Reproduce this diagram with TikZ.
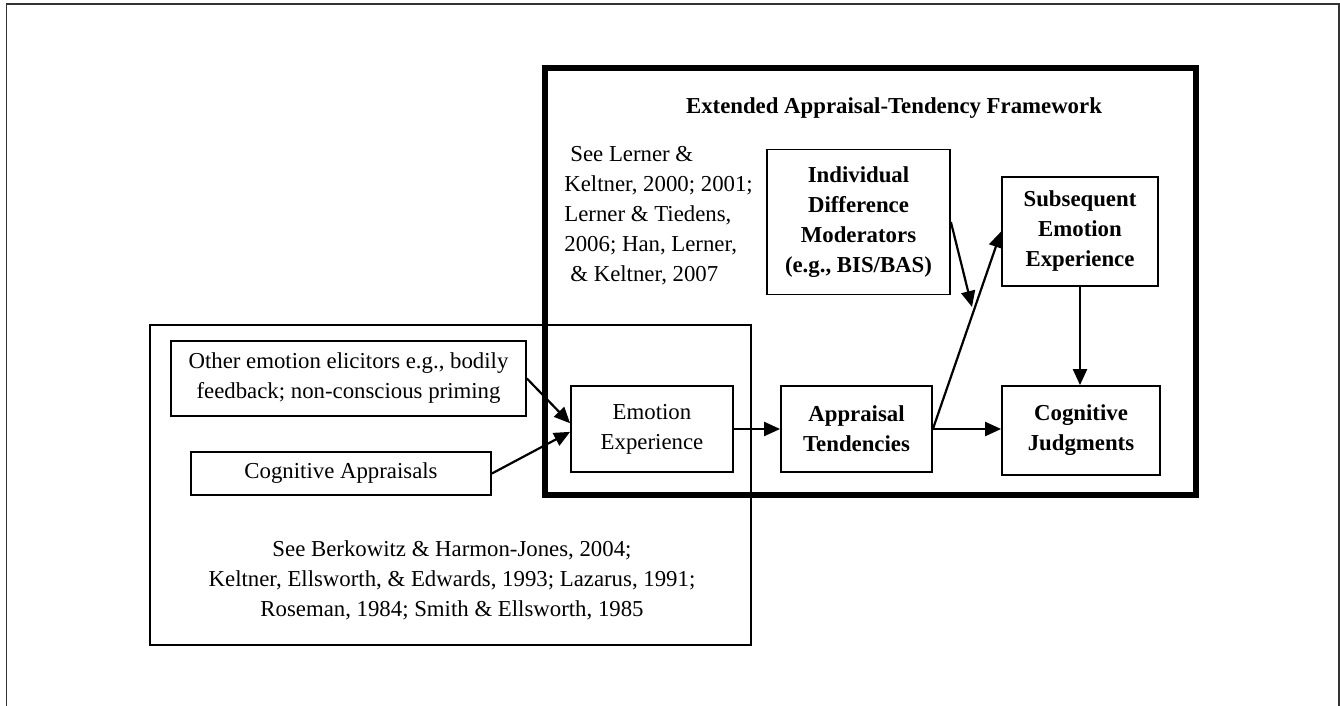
\documentclass[tikz,border=0pt]{standalone}
\usepackage{fontspec}
\setmainfont{Liberation Serif}
\usetikzlibrary{arrows.meta}
\newcommand{\fs}{\fontsize{11.4pt}{15pt}\selectfont}

\begin{document}
\begin{tikzpicture}[x=0.5pt, y=-0.5pt,
    box/.style={draw, rectangle, line width=0.9pt, inner sep=0pt, align=center, font=\fs},
    txt/.style={inner sep=0pt, font=\fs},
    arr/.style={-{Triangle[length=8pt, width=7pt]}, line width=1.1pt}]
    \useasboundingbox (0,0) rectangle (1340,706);
    % page frame
    \draw[line width=0.9pt, black!80] (6.5,712) -- (6.5,4) -- (1339,4) -- (1339,712);

    % Frames
    \draw[line width=2.8pt] (545,68) rectangle (1196,495);
    \draw[line width=1pt] (150,325) rectangle (751,645);

    % Framework part
    \node[txt, font=\fs\bfseries] (title) at (894,108) {Extended Appraisal-Tendency Framework};
    \node[txt, align=left, anchor=north west] (refs-top) at (564,146) {\hspace{3pt}See Lerner \&\\ Keltner, 2000; 2001;\\ Lerner \& Tiedens,\\ 2006; Han, Lerner,\\ \hspace{3pt}\& Keltner, 2007};
    \node[box, minimum width=91.5pt, minimum height=72.5pt, font=\fs\bfseries] (indiv) at (858.5,222) {Individual\\ Difference\\ Moderators\\ (e.g., BIS/BAS)};
    \node[box, minimum width=78pt, minimum height=54.5pt, font=\fs\bfseries] (subseq) at (1080,231.5) {Subsequent\\ Emotion\\ Experience};
    \node[box, minimum width=79pt, minimum height=44.5pt, font=\fs\bfseries] (cogjud) at (1081,430.5) {Cognitive\\ Judgments};
    \node[box, minimum width=75.5pt, minimum height=43pt, font=\fs\bfseries] (apptend) at (856.5,429) {Appraisal\\ Tendencies};
    \node[box, minimum width=81pt, minimum height=43pt] (emoexp) at (652,429) {Emotion\\ Experience};

    % Appraisal part
    \node[box, minimum width=177.5pt, minimum height=37.5pt] (other) at (348.5,378.5) {Other emotion elicitors e.g., bodily\\ feedback; non-conscious priming};
    \node[box, minimum width=150pt, minimum height=21.5pt] (cogapp) at (341,473.5) {Cognitive Appraisals};
    \node[txt, align=center] (refs-bottom) at (452,580) {See Berkowitz \& Harmon-Jones, 2004;\\ Keltner, Ellsworth, \& Edwards, 1993; Lazarus, 1991;\\ Roseman, 1984; Smith \& Ellsworth, 1985};

    % Arrows
    \coordinate (moderate) at (972,307);
    \draw[arr] (other.east) -- (emoexp.176);
    \draw[arr] (cogapp.east) -- (emoexp.182);
    \draw[arr] (emoexp.east) -- (apptend.west);
    \draw[arr] (apptend.east) -- (apptend.east -| cogjud.west);
    \draw[arr] (apptend.east) -- (subseq.west);
    \draw[arr] (indiv.east) -- (moderate);
    \draw[arr] (subseq.south) -- (subseq.south |- cogjud.north);

\end{tikzpicture}
\end{document}
